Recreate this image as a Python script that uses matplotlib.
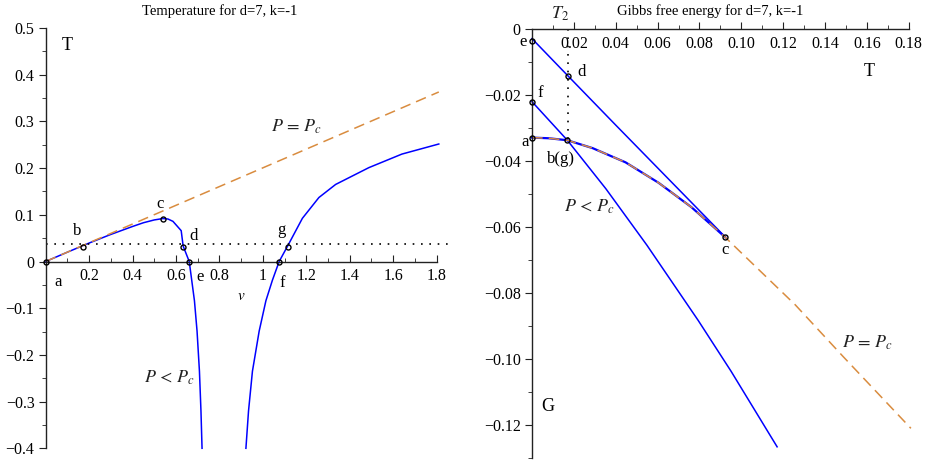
import matplotlib
matplotlib.use("Agg")
import matplotlib.pyplot as plt
from matplotlib.ticker import MultipleLocator, FixedLocator

plt.rcParams['font.family'] = ['Liberation Serif', 'DejaVu Serif']
plt.rcParams['mathtext.fontset'] = 'stix'

BLUE = '#0000ff'
ORANGE = '#d98c3f'

# ---- left panel: temperature vs v ----
v_left = [0, 0.1, 0.2, 0.3, 0.4, 0.45, 0.5, 0.54, 0.563, 0.586, 0.624, 0.633,
          0.661, 0.685, 0.697, 0.708, 0.715, 0.72]
T_left = [0, 0.02, 0.0395, 0.058, 0.075, 0.083, 0.089, 0.092, 0.091, 0.086, 0.066, 0.033,
          0, -0.084, -0.149, -0.235, -0.32, -0.4]
v_right = [0.922, 0.934, 0.952, 0.983, 1.014, 1.044, 1.075, 1.115, 1.182, 1.258,
           1.335, 1.488, 1.64, 1.81]
T_right = [-0.4, -0.32, -0.235, -0.149, -0.084, -0.04, 0, 0.034, 0.0925, 0.137,
           0.165, 0.201, 0.230, 0.2516]
v_crit = [0, 1.81]
T_crit = [0, 0.363]
T_iso = 0.038
v_iso = [0, 1.855]
pts_v = {'a': 0, 'b': 0.172, 'c': 0.54, 'd': 0.633, 'e': 0.661, 'f': 1.075, 'g': 1.115}
pts_T = {'a': 0, 'b': 0.032, 'c': 0.092, 'd': 0.032, 'e': 0, 'f': 0, 'g': 0.032}
lab_pos_left = {'a': (0.057, -0.044), 'b': (0.144, 0.065), 'c': (0.526, 0.123),
                'd': (0.68, 0.0546), 'e': (0.71, -0.033), 'f': (1.087, -0.047),
                'g': (1.087, 0.0675)}
xt_left = [0.2, 0.4, 0.6, 0.8, 1.0, 1.2, 1.4, 1.6, 1.8]
xt_left_lab = ['0.2', '0.4', '0.6', '0.8', '1', '1.2', '1.4', '1.6', '1.8']
yt_left = [0.5, 0.4, 0.3, 0.2, 0.1, 0, -0.1, -0.2, -0.3, -0.4]
yt_left_lab = ['0.5', '0.4', '0.3', '0.2', '0.1', '0', '\u22120.1', '\u22120.2', '\u22120.3', '\u22120.4']

# ---- right panel: Gibbs free energy vs T ----
T_upper = [0, 0.0172, 0.04, 0.0923]
G_upper = [-0.003, -0.0143, -0.0292, -0.0631]
T_lower = [0, 0.0169, 0.0353, 0.0549, 0.0794, 0.0951, 0.1171]
G_lower = [-0.0221, -0.0338, -0.0485, -0.0656, -0.0884, -0.1038, -0.1267]
T_coex = [0, 0.008, 0.0169, 0.029, 0.0447, 0.0605, 0.0762, 0.0923]
G_coex = [-0.033, -0.0332, -0.0338, -0.0362, -0.0405, -0.0467, -0.0541, -0.0632]
T_pc = [0, 0.008, 0.0169, 0.029, 0.0447, 0.0605, 0.0762, 0.0923, 0.1258, 0.1487, 0.181]
G_pc = [-0.033, -0.0332, -0.0338, -0.0362, -0.0405, -0.0467, -0.0541, -0.0632,
        -0.0837, -0.0994, -0.1211]
T2 = 0.0172
gpts_T = {'e': 0, 'd': 0.0172, 'f': 0, 'a': 0, 'b(g)': 0.0169, 'c': 0.0923}
gpts_G = {'e': -0.0036, 'd': -0.0143, 'f': -0.0221, 'a': -0.033, 'b(g)': -0.0338, 'c': -0.0632}
lab_pos_right = {'e': (-0.0044, -0.0039), 'd': (0.0235, -0.013), 'f': (0.0038, -0.0196),
                 'a': (-0.0033, -0.0342), 'b(g)': (0.0137, -0.0395), 'c': (0.092, -0.067)}
xt_right = [0.02, 0.04, 0.06, 0.08, 0.10, 0.12, 0.14, 0.16, 0.18]
yt_right = [0, -0.02, -0.04, -0.06, -0.08, -0.10, -0.12]

fig = plt.figure(figsize=(9.3, 4.61), dpi=100)
ax1 = fig.add_axes([0.0491, 0.02755, 0.4344, 0.9117])
ax2 = fig.add_axes([0.5720, 0.00716, 0.4097, 0.9306])


def style_axes(ax):
    for s in ['top', 'right']:
        ax.spines[s].set_visible(False)
    ax.spines['bottom'].set_position(('data', 0))
    for s in ['left', 'bottom']:
        ax.spines[s].set_linewidth(1.0)
        ax.spines[s].set_color('#222222')
    ax.tick_params(axis='x', which='both', direction='in', pad=5, labelsize=11.5, color='#222222')
    ax.tick_params(axis='x', which='major', length=5)
    ax.tick_params(axis='x', which='minor', length=3)
    ax.tick_params(axis='y', which='both', direction='out', pad=3, labelsize=11.5, color='#222222')
    ax.tick_params(axis='y', which='major', length=5)
    ax.tick_params(axis='y', which='minor', length=3)
    ax.patch.set_visible(False)


# left
style_axes(ax1)
ax1.set_xlim(0, 1.86)
ax1.set_ylim(-0.4, 0.5)
ax1.spines['bottom'].set_bounds(0, 1.8)
ax1.xaxis.set_major_locator(FixedLocator(xt_left))
ax1.set_xticklabels(xt_left_lab)
ax1.xaxis.set_minor_locator(FixedLocator([0.1, 0.3, 0.5, 0.7, 0.9, 1.1, 1.3, 1.5, 1.7]))
ax1.yaxis.set_major_locator(FixedLocator(yt_left))
ax1.set_yticklabels(yt_left_lab)
ax1.yaxis.set_minor_locator(MultipleLocator(0.05))

ax1.plot(v_left, T_left, color=BLUE, lw=1.1, clip_on=False)
ax1.plot(v_right, T_right, color=BLUE, lw=1.1, clip_on=False)
ax1.plot(v_crit, T_crit, color=ORANGE, lw=1.1, dashes=(7, 4), clip_on=False)
ax1.plot(v_iso, [T_iso, T_iso], color='black', lw=1.2, ls=(0, (1, 4)), clip_on=False)
for k in pts_v:
    ax1.plot(pts_v[k], pts_T[k], 'o', ms=3.6, mfc='none', mec='black', mew=1.0, zorder=5, clip_on=False)
    ax1.text(*lab_pos_left[k], k, fontsize=12, ha='center', va='center')
ax1.text(0.098, 0.4636, 'T', fontsize=13, ha='center', va='center')
ax1.text(0.902, -0.076, '$v$', fontsize=11, ha='center', va='center')
ax1.text(1.156, 0.289, r'$P\,=\,P_c$', fontsize=13, ha='center', va='center', color='#222222')
ax1.text(0.572, -0.249, r'$P\,<\,P_c$', fontsize=13, ha='center', va='center', color='#222222')

# right
style_axes(ax2)
ax2.set_xlim(0, 0.182)
ax2.set_ylim(-0.13, 0)
ax2.spines['bottom'].set_bounds(0, 0.18)
ax2.xaxis.set_major_locator(FixedLocator(xt_right))
ax2.set_xticklabels(['%.2f' % t for t in xt_right])
ax2.xaxis.set_minor_locator(FixedLocator([0.01, 0.03, 0.05, 0.07, 0.09, 0.11, 0.13, 0.15, 0.17]))
ax2.yaxis.set_major_locator(FixedLocator(yt_right))
ax2.set_yticklabels(['0'] + ['\u2212%.2f' % abs(t) for t in yt_right[1:]])
ax2.yaxis.set_minor_locator(MultipleLocator(0.01))

ax2.plot(T_upper, G_upper, color=BLUE, lw=1.1, clip_on=False)
ax2.plot(T_lower, G_lower, color=BLUE, lw=1.1, clip_on=False)
ax2.plot(T_coex, G_coex, color=BLUE, lw=1.6, clip_on=False)
ax2.plot(T_pc, G_pc, color=ORANGE, lw=1.1, dashes=(7, 4), clip_on=False)
ax2.plot([T2, T2], [0, gpts_G['b(g)']], color='black', lw=1.2, ls=(0, (1, 4)), clip_on=False)
for k in gpts_T:
    ax2.plot(gpts_T[k], gpts_G[k], 'o', ms=3.6, mfc='none', mec='black', mew=1.0, zorder=5, clip_on=False)
    ax2.text(*lab_pos_right[k], k, fontsize=12, ha='center', va='center')
ax2.text(0.0132, 0.0045, '$T_2$', fontsize=13, ha='center', va='center', color='#222222')
ax2.text(0.161, -0.0131, 'T', fontsize=13, ha='center', va='center')
ax2.text(0.0077, -0.1145, 'G', fontsize=13, ha='center', va='center')
ax2.text(0.0274, -0.054, r'$P\,<\,P_c$', fontsize=13, ha='center', va='center', color='#222222')
ax2.text(0.1605, -0.0953, r'$P\,=\,P_c$', fontsize=13, ha='center', va='center', color='#222222')

fig.text(220 / 930, 1 - 11 / 461, 'Temperature for d=7, k=-1', fontsize=10.5, ha='center', va='center')
fig.text(710 / 930, 1 - 11 / 461, 'Gibbs free energy for d=7, k=-1', fontsize=10.5, ha='center', va='center')

fig.savefig('out.png', dpi=100)
